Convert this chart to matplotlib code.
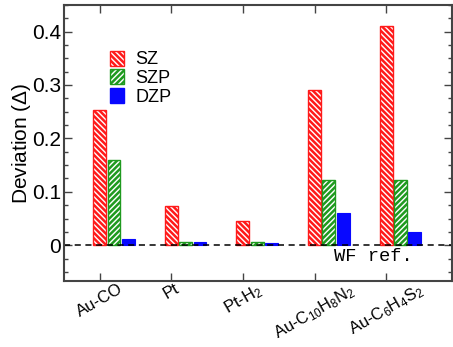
import matplotlib
matplotlib.use("Agg")
import matplotlib.pyplot as plt
from matplotlib.patches import Patch
from matplotlib.ticker import MultipleLocator
import numpy as np

plt.rcParams['font.family'] = ['Liberation Sans', 'DejaVu Sans']
plt.rcParams['mathtext.fontset'] = 'custom'
plt.rcParams['mathtext.rm'] = 'Liberation Sans'
plt.rcParams['mathtext.it'] = 'Liberation Sans'
plt.rcParams['hatch.linewidth'] = 1.8

systems = ['Au-CO', 'Pt', r'Pt-H$_2$', r'Au-C$_{10}$H$_8$N$_2$', r'Au-C$_6$H$_4$S$_2$']
sz = [0.253, 0.073, 0.045, 0.290, 0.411]
szp = [0.160, 0.007, 0.006, 0.123, 0.123]
dzp = [0.011, 0.006, 0.005, 0.060, 0.024]

red = '#ff1a1a'
green = '#1f9a1f'
blue = '#0808ff'

fig = plt.figure(figsize=(4.53, 3.47), dpi=100)
ax = fig.add_axes([0.141, 0.19, 0.857, 0.796])

x = np.arange(len(systems))
w = 0.18
ax.bar(x, sz, w, facecolor='white', edgecolor=red, hatch='\\' * 6, linewidth=1.0)
ax.bar(x + 0.2, szp, w, facecolor='white', edgecolor=green, hatch='/' * 6, linewidth=1.0)
ax.bar(x + 0.4, dzp, w, facecolor=blue, edgecolor=blue, linewidth=0.8)

ax.axhline(0, color='black', ls=(0, (4, 3)), lw=1.1)
ax.text(3.27, -0.006, 'WF ref.', family='Liberation Mono', fontsize=13.5,
        va='top', ha='left')

ax.set_xlim(-0.5, 4.92)
ax.set_ylim(-0.067, 0.45)
ax.set_xticks(x)
ax.set_xticklabels(systems, rotation=30, fontsize=12, ha='center', va='top')
ax.yaxis.set_major_locator(MultipleLocator(0.1))
ax.yaxis.set_minor_locator(MultipleLocator(0.025))
ax.set_yticks([0, 0.1, 0.2, 0.3, 0.4])
ax.set_yticklabels(['0', '0.1', '0.2', '0.3', '0.4'], fontsize=15)
ax.tick_params(direction='in', top=True, right=True, length=6, width=1, color='#444444', pad=2)
ax.tick_params(which='minor', direction='in', right=True, length=3, width=1, color='#444444')
ax.tick_params(axis='x', pad=0)
ax.set_ylabel(r'Deviation ($\Delta$)', fontsize=15, labelpad=-1)
for s in ax.spines.values():
    s.set_color('#444444')
    s.set_linewidth(1.5)

handles = [Patch(facecolor='white', edgecolor=red, hatch='\\' * 6, label='SZ'),
           Patch(facecolor='white', edgecolor=green, hatch='/' * 6, label='SZP'),
           Patch(facecolor=blue, edgecolor=blue, label='DZP')]
ax.legend(handles=handles, loc='upper left', bbox_to_anchor=(0.1, 0.86), frameon=False,
          fontsize=13, handlelength=0.8, handleheight=0.9, handletextpad=0.6,
          labelspacing=0.05, borderaxespad=0)

fig.savefig('out.png', dpi=100)
